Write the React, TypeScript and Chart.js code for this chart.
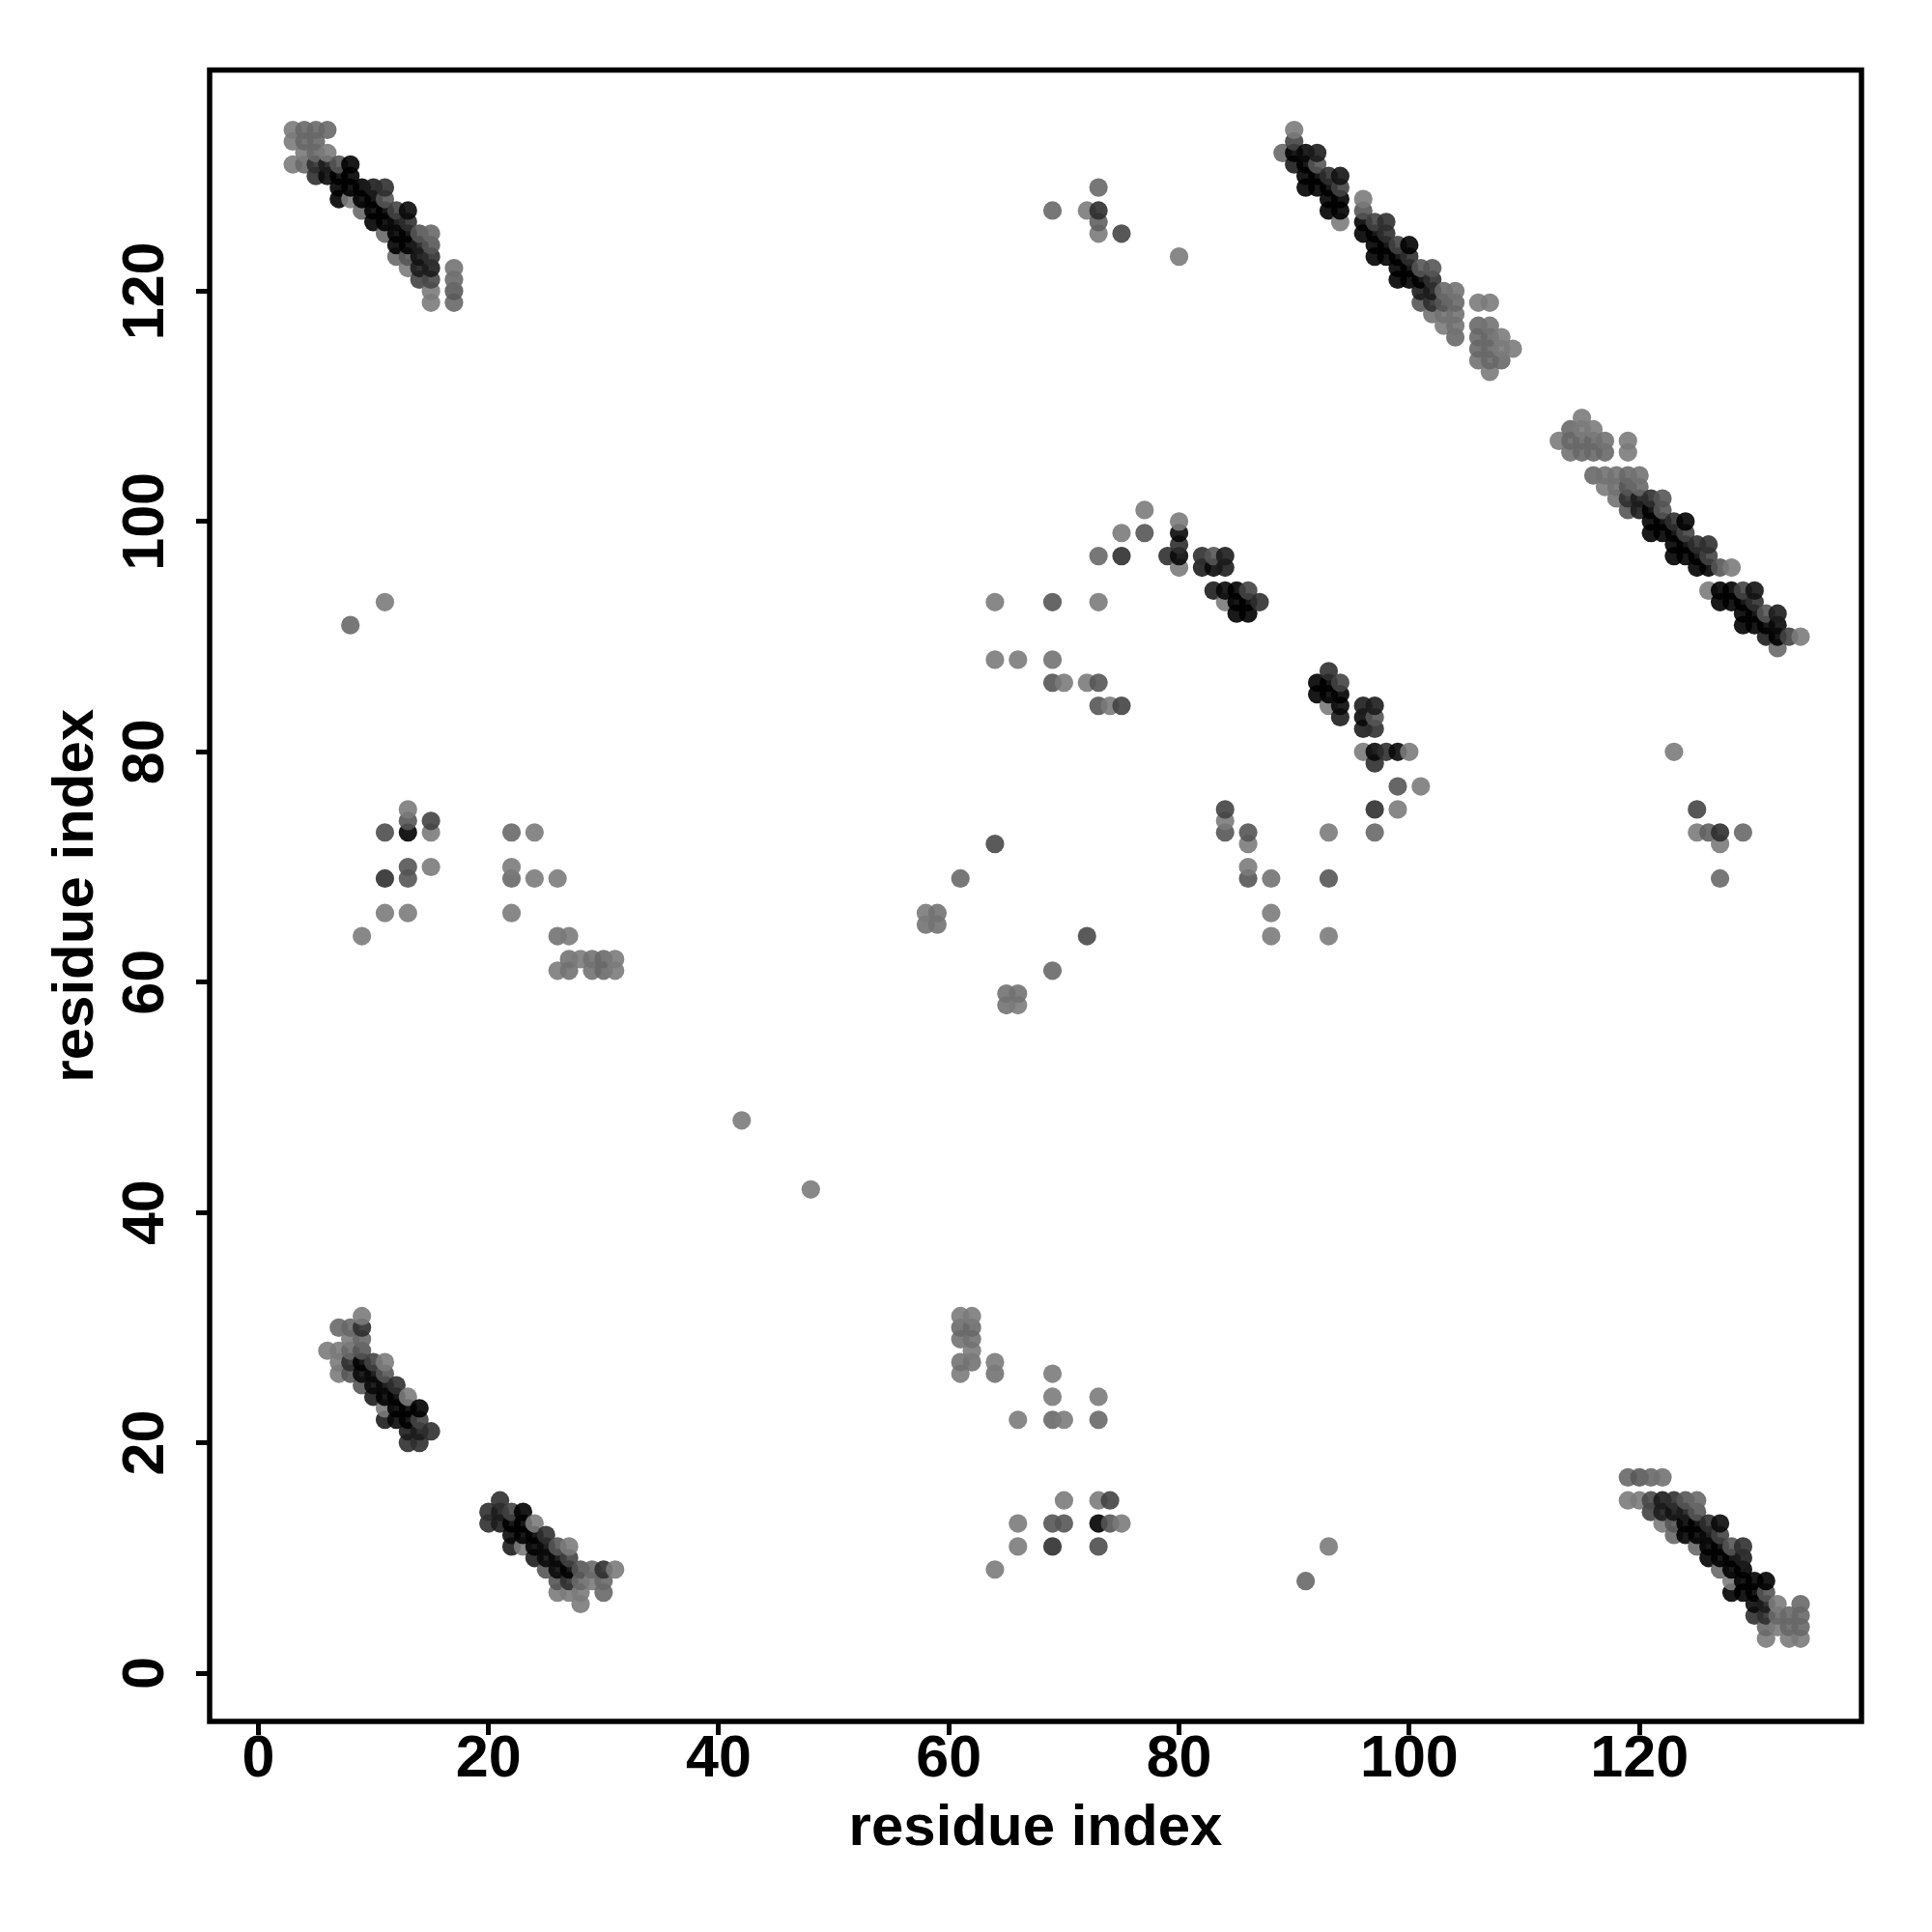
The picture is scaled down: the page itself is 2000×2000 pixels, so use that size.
import React, { useEffect, useRef } from "react";
import { Chart, registerables } from "chart.js";

Chart.register(...registerables);

type Contact = [number, number, number];

// Each contact is [residue a, residue b, displayed grey]; the map is symmetric.
const clusterNTerminus: Contact[] = [
  [119,17,0x77],[120,17,0x6a],[121,17,0x77],[122,17,0x80],
  [119,15,0x88],[120,15,0x88],[121,15,0x5a],[122,15,0x33],[123,15,0x44],[124,15,0x66],[125,15,0x77],
  [121,14,0x55],[122,14,0x33],[123,14,0x2a],[124,14,0x33],[125,14,0x66],
  [122,13,0x88],[123,13,0x66],[124,13,0x1a],[125,13,0x1a],[126,13,0x44],[127,13,0x22],
  [123,12,0x77],[124,12,0x1a],[125,12,0x1a],[126,12,0x22],[127,12,0x55],
  [125,11,0x77],[126,11,0x0d],[127,11,0x0d],[128,11,0x66],[129,11,0x44],
  [126,10,0x11],[127,10,0x11],[128,10,0x11],[129,10,0x33],
  [127,9,0x77],[128,9,0x11],[129,9,0x0a],
  [128,8,0x88],[129,8,0x0a],[130,8,0x11],[131,8,0x11],
  [128,7,0x11],[129,7,0x11],[130,7,0x11],[131,7,0x66],
  [130,6,0x22],[131,6,0x33],[132,6,0x88],[134,6,0x77],
  [130,5,0x44],[131,5,0x44],[132,5,0x77],[133,5,0x77],[134,5,0x77],
  [131,4,0x77],[132,4,0x88],[133,4,0x77],[134,4,0x77],
  [131,3,0x88],[133,3,0x88],[134,3,0x88],
];

const clusterHelixPair: Contact[] = [
  [115,109,0x88],
  [114,108,0x77],[115,108,0x88],[116,108,0x88],
  [113,107,0x88],[114,107,0x77],[115,107,0x77],[116,107,0x77],[117,107,0x80],[119,107,0x88],
  [114,106,0x80],[115,106,0x77],[116,106,0x77],[117,106,0x77],[119,106,0x88],
  [116,104,0x77],[117,104,0x80],[118,104,0x80],[119,104,0x77],[120,104,0x80],
  [117,103,0x88],[118,103,0x80],[119,103,0x66],[120,103,0x77],
  [118,102,0x80],[119,102,0x44],[120,102,0x33],[121,102,0x44],[122,102,0x66],
  [119,101,0x66],[120,101,0x33],[121,101,0x0d],[122,101,0x66],
  [121,100,0x11],[122,100,0x11],[123,100,0x44],[124,100,0x11],
  [121,99,0x11],[122,99,0x11],[123,99,0x11],[124,99,0x55],
  [123,98,0x11],[124,98,0x11],[125,98,0x44],[126,98,0x44],
  [123,97,0x11],[124,97,0x11],[125,97,0x11],[126,97,0x55],
  [125,96,0x11],[126,96,0x11],[127,96,0x66],[128,96,0x88],
  [126,94,0x88],[127,94,0x11],[128,94,0x11],[129,94,0x55],[130,94,0x2a],
  [127,93,0x11],[128,93,0x11],[129,93,0x11],[130,93,0x44],
  [129,92,0x11],[130,92,0x11],[131,92,0x66],[132,92,0x33],
  [129,91,0x11],[130,91,0x11],[131,91,0x11],[132,91,0x22],
  [131,90,0x33],[132,90,0x11],[133,90,0x55],[134,90,0x88],
  [132,89,0x77],
];

const clusterCentral: Contact[] = [
  [93,87,0x44],
  [92,86,0x0a],[93,86,0x0a],[94,86,0x55],
  [92,85,0x0a],[93,85,0x11],[94,85,0x11],
  [93,84,0x88],[94,84,0x22],[96,84,0x33],[97,84,0x33],
  [94,83,0x33],[96,83,0x22],[97,83,0x66],
  [96,82,0x33],[97,82,0x44],
  [96,80,0x88],[97,80,0x22],[98,80,0x44],[99,80,0x22],[100,80,0x88],
  [97,79,0x44],
  [99,77,0x66],[101,77,0x88],
  [97,75,0x44],[99,75,0x88],[97,73,0x77],
  [93,73,0x88],[93,69,0x66],[93,64,0x88],
  [88,69,0x80],[88,66,0x88],[88,64,0x88],
  [86,73,0x66],[86,72,0x88],[86,70,0x88],[86,69,0x66],
  [84,75,0x55],[84,74,0x88],[84,73,0x66],
];

const clusterLowerLeft: Contact[] = [
  [21,15,0x44],
  [20,14,0x44],[21,14,0x33],[22,14,0x55],[23,14,0x11],
  [20,13,0x44],[21,13,0x33],[22,13,0x11],[23,13,0x11],[24,13,0x88],
  [22,12,0x22],[23,12,0x11],[24,12,0x11],[25,12,0x44],
  [22,11,0x33],[23,11,0x88],[24,11,0x1a],[25,11,0x22],[26,11,0x66],[27,11,0x88],
  [24,10,0x33],[25,10,0x22],[26,10,0x22],[27,10,0x55],
  [25,9,0x66],[26,9,0x22],[27,9,0x1a],[28,9,0x66],[29,9,0x77],[30,9,0x44],[31,9,0x88],
  [26,8,0x66],[27,8,0x44],[28,8,0x77],[29,8,0x88],[30,8,0x77],
  [26,7,0x88],[27,7,0x88],[28,7,0x88],[30,7,0x77],
  [28,6,0x88],
];

const clusterLoops: Contact[] = [
  [75,13,0x88],[74,13,0x66],[74,15,0x55],[73,11,0x60],[73,13,0x11],[73,15,0x88],[73,22,0x77],[73,24,0x88],
  [70,13,0x66],[70,15,0x88],[70,22,0x88],[69,11,0x44],[69,13,0x66],[69,22,0x77],[69,24,0x88],[69,26,0x88],
  [66,11,0x88],[66,13,0x88],[66,22,0x88],[64,9,0x88],[64,26,0x80],[64,27,0x88],
  [62,27,0x80],[62,28,0x88],[62,29,0x80],[62,30,0x78],[62,31,0x88],
  [61,26,0x88],[61,27,0x80],[61,29,0x80],[61,30,0x78],[61,31,0x88],
  [66,58,0x88],[66,59,0x80],[65,58,0x80],[65,59,0x80],
  [69,61,0x77],[72,64,0x5a],[48,42,0x88],[93,11,0x88],[91,8,0x77],
];

const clusterUpperMiddle: Contact[] = [
  [123,80,0x88],[125,75,0x58],[125,73,0x88],[126,73,0x70],[127,73,0x44],[129,73,0x77],[127,72,0x88],[127,69,0x77],
  [101,77,0x88],
  [93,64,0x88],
];

const xTickValues = [0, 20, 40, 60, 80, 100, 120];
const yTickValues = [0, 20, 40, 60, 80, 100, 120];
const axisTitle = "residue index";

function allPoints() {
  const seen = new Map<string, { x: number; y: number; grey: number }>();
  const groups = [clusterNTerminus, clusterHelixPair, clusterCentral, clusterLowerLeft, clusterLoops, clusterUpperMiddle];
  for (const group of groups) {
    for (const [a, b, grey] of group) {
      seen.set(`${a},${b}`, { x: a, y: b, grey });
      seen.set(`${b},${a}`, { x: b, y: a, grey });
    }
  }
  return [...seen.values()].sort((p, q) => p.x - q.x || p.y - q.y);
}

const framePlugin = {
  id: "frame",
  afterDraw(chart: any) {
    const { ctx, chartArea: a } = chart;
    ctx.save();
    ctx.strokeStyle = "#000";
    ctx.lineWidth = 5.5;
    ctx.strokeRect(a.left, a.top, a.right - a.left, a.bottom - a.top);
    ctx.restore();
  },
};

export default function App() {
  const ref = useRef<HTMLCanvasElement>(null);
  useEffect(() => {
    const points = allPoints();
    const alpha = 0.9;
    const colors = points.map((p) => {
      const g = Math.max(0, Math.round((p.grey - 255 * (1 - alpha)) / alpha));
      return `rgba(${g},${g},${g},${alpha})`;
    });
    const tickFont = { family: "Liberation Sans", size: 61, weight: "bold" as const };
    const titleFont = { family: "Liberation Sans", size: 60, weight: "bold" as const, lineHeight: 1.2 };
    const grid = { display: true, drawOnChartArea: false, drawTicks: true, tickLength: 14, tickWidth: 5, tickColor: "#000" };
    const chart = new Chart(ref.current!, {
      type: "scatter",
      data: {
        datasets: [
          {
            data: points.map((p) => ({ x: p.x, y: p.y })),
            backgroundColor: colors,
            borderWidth: 0,
            pointRadius: 9.6,
            pointHoverRadius: 9.6,
          },
        ],
      },
      options: {
        animation: false,
        responsive: false,
        devicePixelRatio: 1,
        events: [],
        layout: { padding: { left: 0, top: 72.5, right: 73, bottom: 0 } },
        plugins: { legend: { display: false }, tooltip: { enabled: false }, title: { display: false } },
        scales: {
          x: {
            type: "linear",
            position: "bottom",
            min: -4.23,
            max: 139.29,
            grid,
            border: { display: false },
            ticks: { font: tickFont, color: "#000", padding: -10, maxRotation: 0, minRotation: 0, autoSkip: false },
            title: { display: true, text: axisTitle, font: titleFont, color: "#000", padding: { top: 0, bottom: 71 } },
            afterBuildTicks: (s: any) => { s.ticks = xTickValues.map((value) => ({ value })); },
            afterFit: (s: any) => { s.height = 218; },
          },
          y: {
            type: "linear",
            position: "left",
            min: -4.19,
            max: 139.2,
            grid,
            border: { display: false },
            ticks: { font: tickFont, color: "#000", padding: 0, minRotation: 90, maxRotation: 90, crossAlign: "center", autoSkip: false },
            title: { display: true, text: axisTitle, font: titleFont, color: "#000", padding: { top: 43, bottom: 0 } },
            afterBuildTicks: (s: any) => { s.ticks = yTickValues.map((value) => ({ value })); },
            afterFit: (s: any) => { s.width = 217; },
          },
        },
      },
      plugins: [framePlugin],
    } as any);
    return () => chart.destroy();
  }, []);
  return (
    <div style={{ position: "absolute", left: 0, top: 0, width: 2000, height: 2000, background: "#fff" }}>
      <canvas ref={ref} width={2000} height={2000} style={{ display: "block" }} />
    </div>
  );
}
